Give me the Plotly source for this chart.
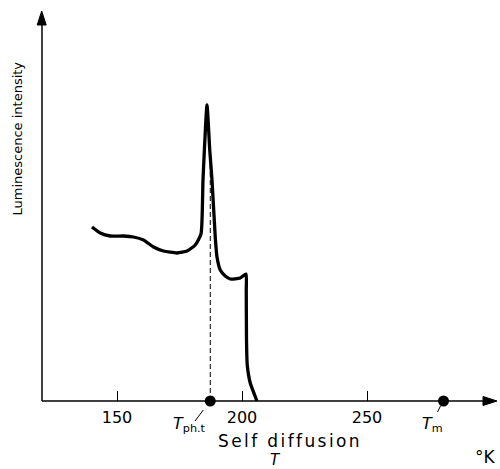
import plotly.graph_objects as go

# Data (temperature in K, luminescence intensity in arbitrary units)
temperature = [140.0, 143.3, 147.3, 152.6, 156.6, 160.6, 164.6, 168.6, 174.0, 178.0,
               181.3, 183.6, 184.4, 186.0, 187.1, 188.0, 189.3, 190.0, 191.3, 193.3,
               195.3, 199.3, 201.6, 201.7, 201.8, 202.1, 203.3, 206.0]
intensity = [174, 168, 165, 165, 164, 161, 154, 150, 148, 150,
             156, 167, 221, 296, 251, 221, 164, 144, 131, 125,
             122, 123, 127, 111, 61, 36, 18, 0]

tick_vals = [150, 200, 250]
t_phase = 187.3
t_melt = 280.6
x_range = [120, 302]
y_range = [0, 389]

FONT = "DejaVu Sans"
ML, MT, PW, PH = 42, 12, 455, 389  # margins / plot size in px


def py(p):
    """screen pixel row -> paper y"""
    return (MT + PH - p) / PH


def px(p):
    """screen pixel column -> paper x"""
    return (p - ML) / PW


def dx(p):
    """screen pixel column -> data x"""
    return x_range[0] + (p - ML) / 2.5


fig = go.Figure()

# dashed line at phase transition
fig.add_trace(go.Scatter(x=[t_phase, t_phase], y=[0, 240], mode="lines",
                         line=dict(color="black", width=1, dash="5px,3px"),
                         hoverinfo="skip", showlegend=False))

# main curve
fig.add_trace(go.Scatter(x=temperature, y=intensity, mode="lines",
                         line=dict(color="black", width=3.3, shape="spline", smoothing=0.5),
                         showlegend=False))

# markers on the axis
fig.add_trace(go.Scatter(x=[t_phase, t_melt], y=[0, 0], mode="markers",
                         marker=dict(color="black", size=11),
                         cliponaxis=False, showlegend=False))

shapes = []
line_style = dict(color="black", width=1.5)
# axis lines
shapes.append(dict(type="line", xref="paper", yref="paper", x0=0, y0=0, x1=px(490), y1=0,
                   line=line_style))
shapes.append(dict(type="line", xref="paper", yref="paper", x0=0, y0=0, x1=0, y1=py(18),
                   line=line_style))
# arrow heads
shapes.append(dict(type="path", xref="paper", yref="paper",
                   path=f"M {px(497)} {py(401)} L {px(483)} {py(396.5)} L {px(483)} {py(405.5)} Z",
                   fillcolor="black", line=dict(color="black", width=1)))
shapes.append(dict(type="path", xref="paper", yref="paper",
                   path=f"M {px(41.7)} {py(11)} L {px(37.2)} {py(25)} L {px(46.2)} {py(25)} Z",
                   fillcolor="black", line=dict(color="black", width=1)))
# leader lines
shapes.append(dict(type="line", xref="paper", yref="paper",
                   x0=px(203.3), y0=py(410), x1=px(195), y1=py(421),
                   line=dict(color="black", width=1)))
shapes.append(dict(type="line", xref="paper", yref="paper",
                   x0=px(440.5), y0=py(406), x1=px(437.5), y1=py(412),
                   line=dict(color="black", width=1)))

ann = []
ann.append(dict(x=dx(189.5), y=py(424), xref="x", yref="paper", yanchor="middle",
                xanchor="center", text="<i>T</i><sub>ph.t</sub>",
                showarrow=False, font=dict(family=FONT, size=16, color="black")))
ann.append(dict(x=dx(432), y=py(424), xref="x", yref="paper", yanchor="middle",
                xanchor="center", text="<i>T</i><sub>m</sub>",
                showarrow=False, font=dict(family=FONT, size=16, color="black")))
ann.append(dict(x=dx(290), y=py(440.5), xref="x", yref="paper", yanchor="middle",
                xanchor="center",
                text="<span style='letter-spacing:2.4px'>Self diffusion</span>",
                showarrow=False, font=dict(family=FONT, size=17, color="black")))
ann.append(dict(x=dx(275.7), y=py(460), xref="x", yref="paper", yanchor="middle",
                xanchor="center", text="<i>T</i>",
                showarrow=False, font=dict(family=FONT, size=15, color="black")))
ann.append(dict(x=dx(485), y=py(457), xref="x", yref="paper", yanchor="middle",
                xanchor="center", text="°K",
                showarrow=False, font=dict(family=FONT, size=17, color="black")))
ann.append(dict(x=(17 - ML) / PW, y=py(138.5), xref="paper", yref="paper",
                xanchor="center", yanchor="middle", text="Luminescence intensity",
                textangle=-90, showarrow=False,
                font=dict(family=FONT, size=13, color="black")))

fig.update_layout(
    width=500, height=469,
    margin=dict(l=ML, r=500 - ML - PW, t=MT, b=469 - MT - PH),
    paper_bgcolor="white", plot_bgcolor="white",
    annotations=ann,
    shapes=shapes,
    xaxis=dict(range=x_range, tickvals=tick_vals, ticks="inside", ticklen=10,
               tickwidth=1.3, tickcolor="black", showline=False, showgrid=False,
               zeroline=False, tickfont=dict(family=FONT, size=16, color="black"),
               ticklabelstandoff=5),
    yaxis=dict(range=y_range, showticklabels=False, showline=False, showgrid=False,
               zeroline=False, ticks=""),
)

fig.write_html("out.html", config={"displayModeBar": False},
               post_script="document.body.style.margin='0';")
